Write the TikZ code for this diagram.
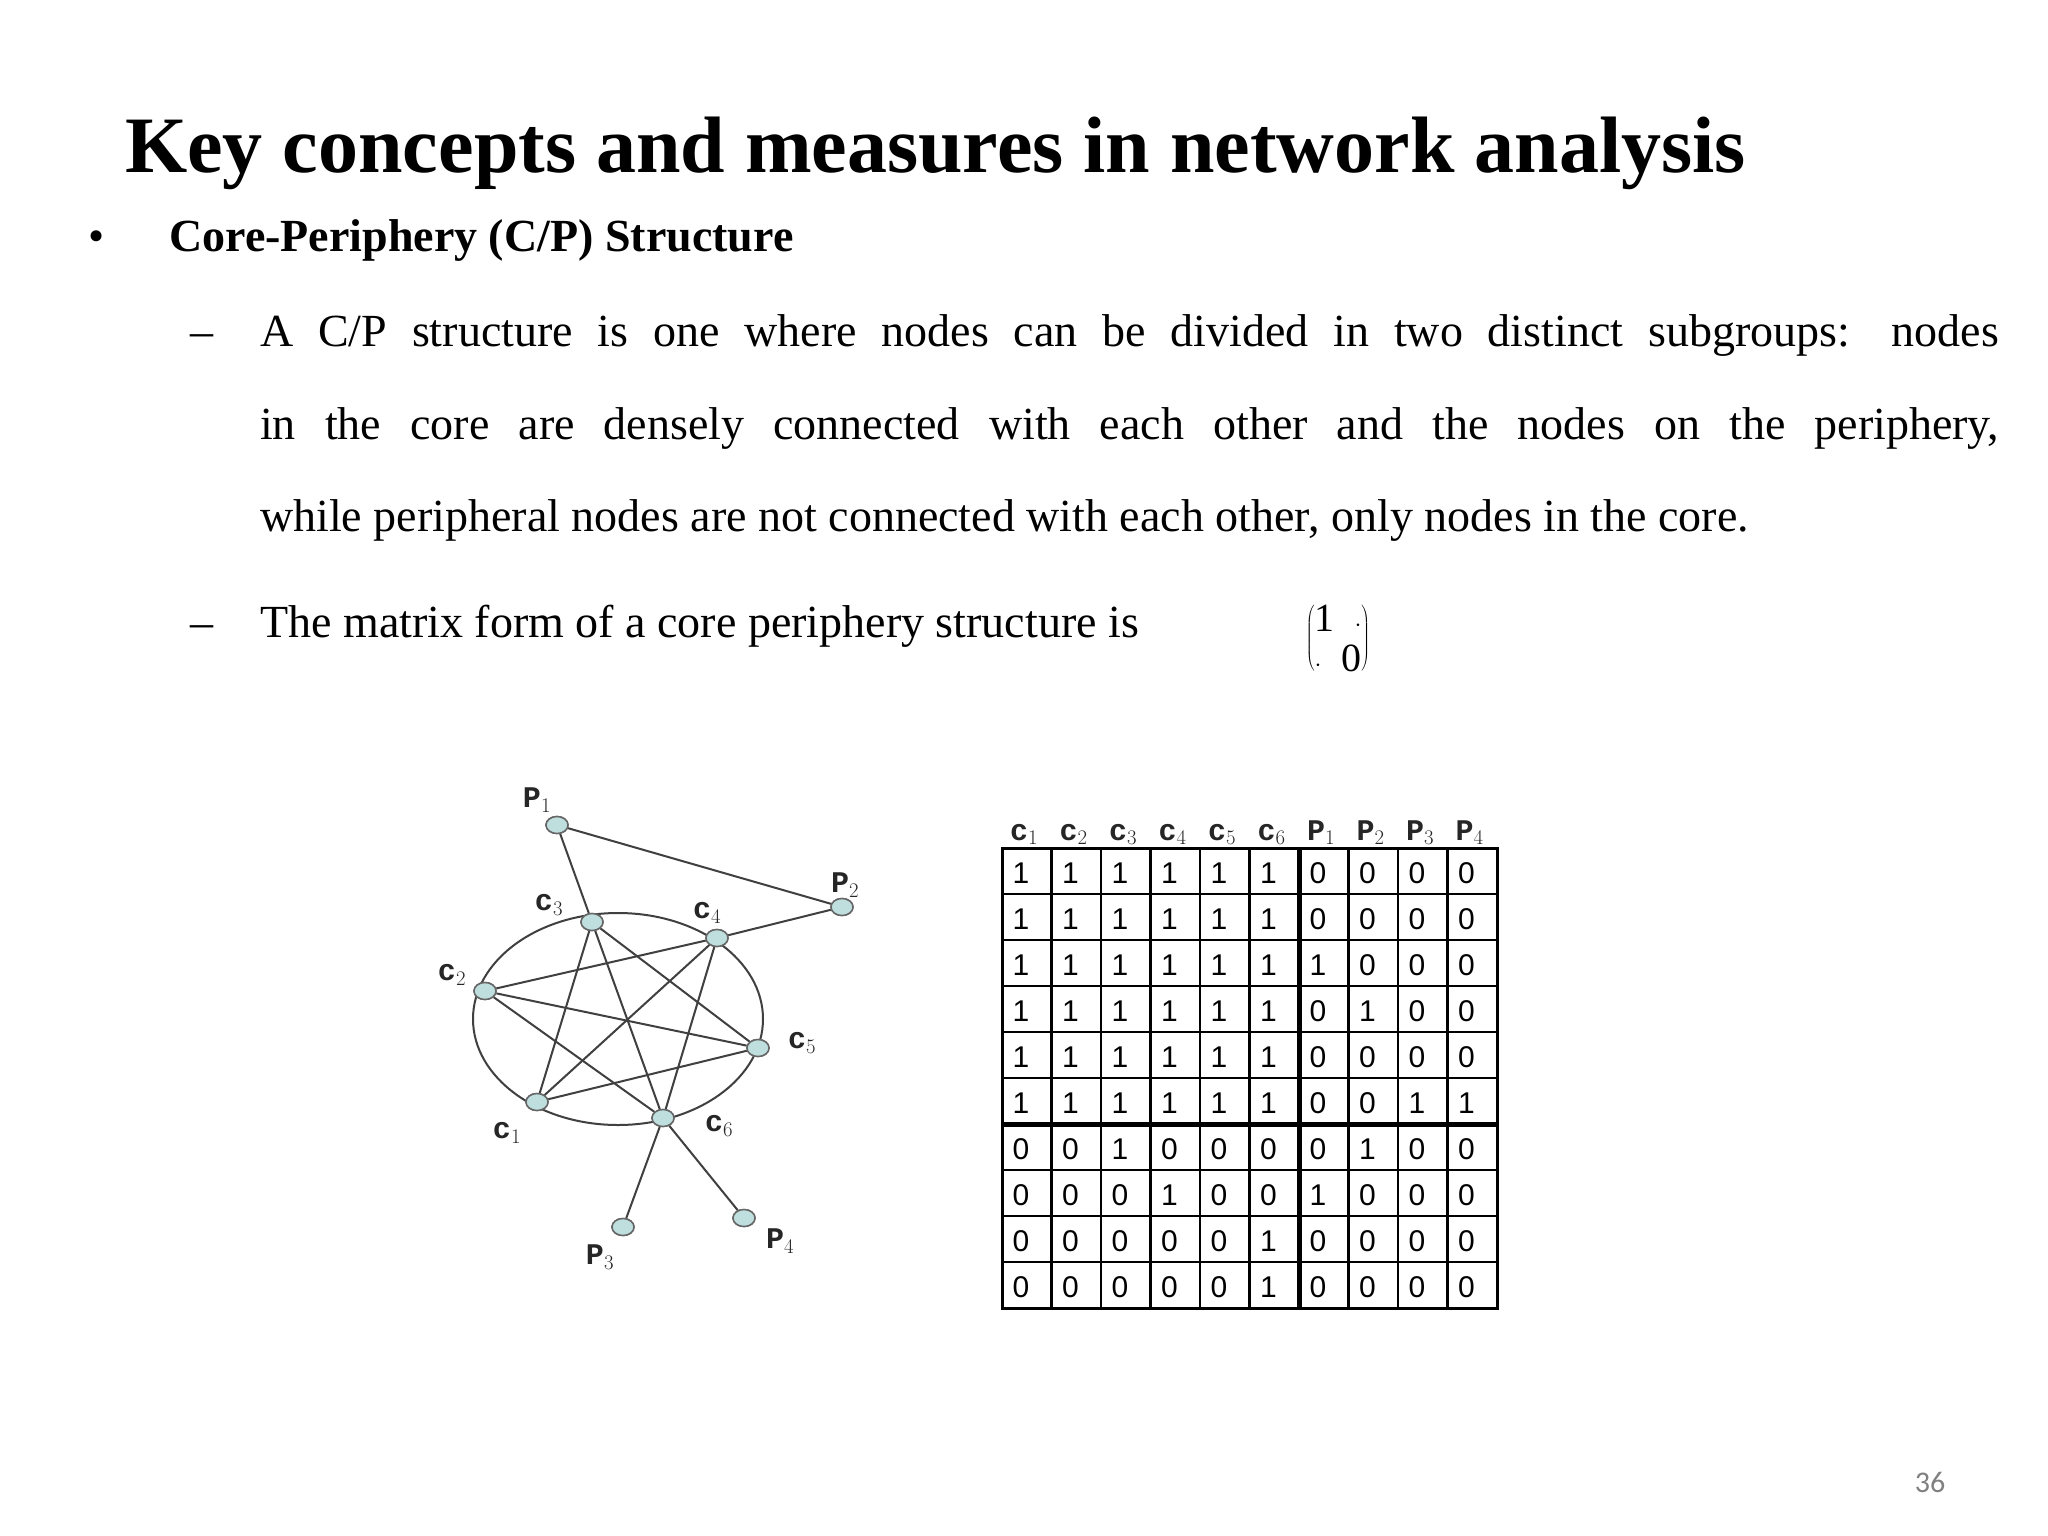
\documentclass[tikz,border=0pt]{standalone}
\usepackage{fontspec}
\setmainfont{Liberation Serif}
\newfontfamily\arialf{Liberation Sans}
\newfontfamily\monof{Liberation Mono}
\newfontfamily\carl{Carlito}
\usetikzlibrary{shapes.geometric}
\begin{document}
\begin{tikzpicture}[x=1pt,y=-1pt,
  vert/.style={ellipse,draw=gray!80!black,fill=teal!25!white,line width=1.5pt,minimum width=22pt,minimum height=17pt,inner sep=0pt},
  lab/.style={font=\monof\bfseries\fontsize{30}{30}\selectfont,text=black!85,inner sep=0pt},
  edge/.style={line width=2pt,draw=black!75},
  cell/.style={font=\arialf\fontsize{30}{30}\selectfont,inner sep=0pt},
  txt/.style={anchor=base west,inner sep=0pt,font=\fontsize{46}{46}\selectfont}]
\useasboundingbox[fill=white] (0,0) rectangle (2048,1536);
% title
\node[anchor=base west,inner sep=0pt,font=\bfseries\fontsize{80}{80}\selectfont] (title) at (125,172) {Key concepts and measures in network analysis};
\node[anchor=base west,inner sep=0pt,font=\fontsize{46}{46}\selectfont] (b1) at (88,251) {•};
\node[txt,font=\bfseries\fontsize{46}{46}\selectfont] (h1) at (169,251) {Core-Periphery (C/P) Structure};
\node[txt] (d1) at (190,346) {–};
\node[txt] (l1) at (260,346) {\makebox[1739pt][s]{A C/P structure is one where nodes can be divided in two distinct subgroups: nodes}};
\node[txt] (l2) at (260,439) {\makebox[1739pt][s]{in the core are densely connected with each other and the nodes on the periphery,}};
\node[txt] (l3) at (260,531) {while peripheral nodes are not connected with each other, only nodes in the core.};
\node[txt] (d2) at (190,637) {–};
\node[txt] (l4) at (260,637) {The matrix form of a core periphery structure is};
\node[inner sep=0pt,font=\fontsize{40}{40}\selectfont] (mat) at (1338,638) {$\left(\vcenter{\hbox{1\enspace$\cdot$}\hbox{$\cdot$\enspace0}}\right)$};
\node[font=\carl\fontsize{30}{30}\selectfont,text=gray,inner sep=0pt] (pg) at (1930,1482) {36};
% graph
\draw[edge] (618,1019) ellipse (145 and 106);
\node[vert] (p1) at (557,825) {};
\node[vert] (p2) at (842,907) {};
\node[vert] (c3) at (592,922) {};
\node[vert] (c4) at (717,938) {};
\node[vert] (c2) at (485,991) {};
\node[vert] (c5) at (758,1048) {};
\node[vert] (c1) at (537,1102) {};
\node[vert] (c6) at (663,1118) {};
\node[vert] (p3) at (623,1227) {};
\node[vert] (p4) at (744,1218) {};
\foreach \a/\b in {c1/c3,c1/c4,c1/c5,c2/c4,c2/c5,c2/c6,c3/c5,c3/c6,c4/c6,p1/c3,p1/p2,p2/c4,c6/p3,c6/p4}
  \draw[edge] (\a) -- (\b);
\foreach \n in {p1,p2,c1,c2,c3,c4,c5,c6,p3,p4} \node[vert] at (\n) {};
\node[lab] (tp1) at (537,800) {P$_1$};
\node[lab] (tp2) at (845,885) {P$_2$};
\node[lab] (tc3) at (549,905) {c$_3$};
\node[lab] (tc4) at (707,913) {c$_4$};
\node[lab] (tc2) at (452,975) {c$_2$};
\node[lab] (tc5) at (802,1043) {c$_5$};
\node[lab] (tc1) at (507,1133) {c$_1$};
\node[lab] (tc6) at (719,1126) {c$_6$};
\node[lab] (tp3) at (600,1257) {P$_3$};
\node[lab] (tp4) at (780,1241) {P$_4$};
% matrix
\foreach \i in {0,...,9}{
  \draw[line width=2.5pt] (1002+49.5*\i,848) -- (1002+49.5*\i,1308);
  \draw[line width=2.5pt] (1002,848+46*\i) -- (1497,848+46*\i);
}
\draw[line width=3pt] (1002,848) rectangle (1497,1308);
\draw[line width=5pt] (1299,848) -- (1299,1308);
\draw[line width=5pt] (1002,1124) -- (1497,1124);
\foreach \r [count=\i from 0] in {{1,1,1,1,1,1,0,0,0,0},{1,1,1,1,1,1,0,0,0,0},{1,1,1,1,1,1,1,0,0,0},{1,1,1,1,1,1,0,1,0,0},{1,1,1,1,1,1,0,0,0,0},{1,1,1,1,1,1,0,0,1,1},{0,0,1,0,0,0,0,1,0,0},{0,0,0,1,0,0,1,0,0,0},{0,0,0,0,0,1,0,0,0,0},{0,0,0,0,0,1,0,0,0,0}}{
  \foreach \v [count=\j from 0] in \r {
    \node[cell] at (1002+49.5*\j+19,848+46*\i+25) {\v};
  }
}
\foreach \t [count=\k from 0] in {c$_1$,c$_2$,c$_3$,c$_4$,c$_5$,c$_6$,P$_1$,P$_2$,P$_3$,P$_4$}
  \node[lab,anchor=base] at (1002+49.5*\k+22,840) {\t};
\end{tikzpicture}
\end{document}
